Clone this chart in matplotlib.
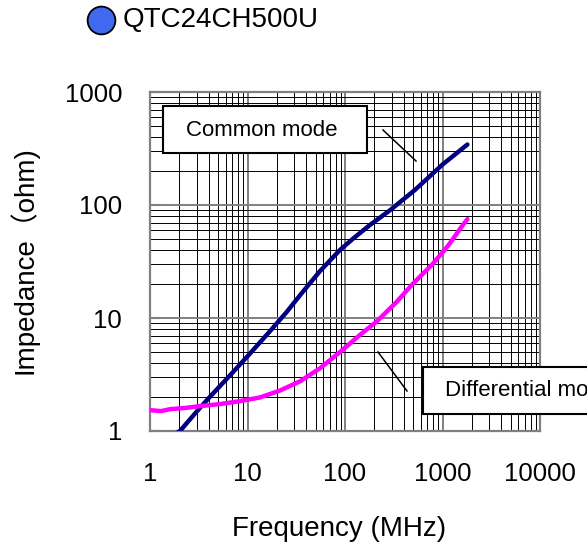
import numpy as np
import matplotlib
matplotlib.use("Agg")
import matplotlib.pyplot as plt
from matplotlib.patches import Rectangle
from matplotlib.lines import Line2D

plt.rcParams['font.family'] = ['Liberation Sans', 'Noto Sans CJK JP', 'DejaVu Sans']

# Data.
part_name = "QTC24CH500U"

cm_freq = [1.75, 2.03, 3.0, 4.1, 6.6, 10.5, 16.9, 25, 36, 55.4, 88.8, 122, 180, 290, 522, 1000, 1800]
cm_imp = [0.93, 1.0, 1.48, 2.0, 3.1, 4.8, 7.6, 11.2, 16.6, 26.0, 40, 50.7, 66.5, 90, 136, 228, 343]

dm_freq = [1.0, 1.3, 1.6, 2.3, 3.25, 5.2, 8.4, 13.4, 21.5, 34.5, 55.4, 88.8, 142, 211, 339, 494, 790, 1000, 1172, 1545, 1800]
dm_imp = [1.53, 1.50, 1.56, 1.60, 1.66, 1.73, 1.84, 1.98, 2.28, 2.75, 3.59, 5.0, 7.07, 9.3, 13.9, 20, 30, 38, 45, 63, 75]

x_ticks = [1, 10, 100, 1000, 10000]
x_ticklabels = ["1", "10", "100", "1000", "10000"]
y_ticks = [1, 10, 100, 1000]
y_ticklabels = ["1", "10", "100", "1000"]

W, H = 587, 549
fig = plt.figure(figsize=(W / 100, H / 100), dpi=100)
ax = fig.add_axes([150 / W, 1 - 431 / H, 390 / W, 339 / H])

ax.set_xscale('log')
ax.set_yscale('log')
ax.set_xlim(1, 10000)
ax.set_ylim(1, 1000)

# grid: decades gray, the rest black and thin
ax.grid(which='major', color='#808080', linewidth=1.4)
ax.grid(which='minor', color='black', linewidth=0.7)
ax.set_axisbelow(True)

ax.plot(cm_freq, cm_imp, color='#000080', linewidth=3.2, solid_capstyle='round', zorder=5)
ax.plot(dm_freq, dm_imp, color='#ff00ff', linewidth=3.2, solid_capstyle='round', zorder=5)

ax.set_xticks(x_ticks)
ax.set_xticklabels(x_ticklabels)
ax.set_yticks(y_ticks)
ax.set_yticklabels(y_ticklabels)
ax.tick_params(axis='x', which='major', length=0, pad=22, labelsize=18.5)
ax.tick_params(axis='y', which='major', direction='in', length=8, width=1.5,
               color='#808080', pad=20, labelsize=18.5)
ax.tick_params(which='minor', length=0)

for s in ax.spines.values():
    s.set_color('#808080')
    s.set_linewidth(1.6)

# labels
fig.text(339 / W, 1 - 529 / H, "Frequency (MHz)", fontsize=20, ha='center', va='center')
fig.text(24 / W, 1 - 260 / H, "Impedance（ohm)", fontsize=20, rotation=90,
         ha='center', va='center')

# title with blue dot
fig.add_artist(Line2D([101 / W], [1 - 20 / H], marker='o', markersize=20,
                      markerfacecolor='#4169f0', markeredgecolor='black',
                      markeredgewidth=1.3, linestyle='none'))
fig.text(123 / W, 1 - 20 / H, part_name, fontsize=20, ha='left', va='center')

# callout boxes
fig.add_artist(Rectangle((163 / W, 1 - 153 / H), 204 / W, 47 / H, transform=fig.transFigure,
                         facecolor='white', edgecolor='black', linewidth=1.5, zorder=10))
fig.text(262 / W, 1 - 130 / H, "Common mode", fontsize=16, ha='center', va='center', zorder=11)
fig.add_artist(Line2D([383 / W, 416 / W], [1 - 130 / H, 1 - 161 / H], color='black', linewidth=1.1))

# this box runs off the right edge in the original too
fig.add_artist(Rectangle((423 / W, 1 - 414 / H), 200 / W, 47 / H, transform=fig.transFigure,
                         facecolor='white', edgecolor='black', linewidth=1.5, zorder=10))
fig.text(445 / W, 1 - 391 / H, "Differential mode", fontsize=16, ha='left', va='center', zorder=11)
fig.add_artist(Line2D([378 / W, 407 / W], [1 - 352 / H, 1 - 391 / H], color='black', linewidth=1.1))

fig.savefig("out.png", dpi=100)
